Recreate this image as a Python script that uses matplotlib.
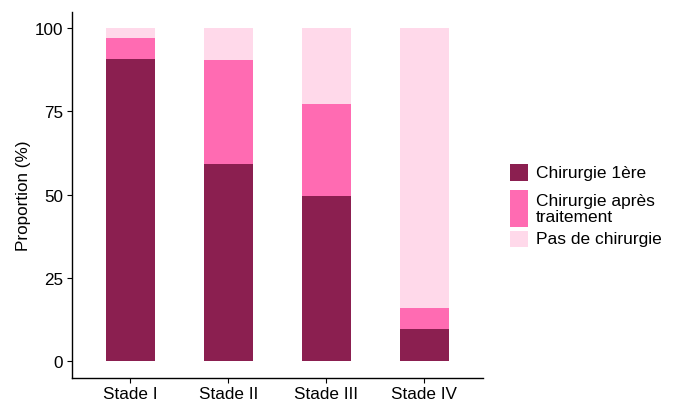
import matplotlib
matplotlib.use("Agg")
import matplotlib.pyplot as plt
from matplotlib.patches import Rectangle

plt.rcParams['font.family'] = ['Liberation Sans', 'DejaVu Sans']

# data (percent per stage)
stades = ["Stade I", "Stade II", "Stade III", "Stade IV"]
chir_1ere = [90.9, 59.3, 49.5, 9.5]
chir_apres = [6.1, 31.3, 27.7, 6.4]
pas_chir = [3.0, 9.4, 22.8, 84.1]

series_labels = ["Chirurgie 1ère", "Chirurgie après\ntraitement", "Pas de chirurgie"]
colors = ["#8B1F50", "#FF6BB2", "#FFD9EA"]

fig = plt.figure(figsize=(6.78, 4.02), dpi=100)
ax = fig.add_axes([0.1055, 0.0582, 0.6069, 0.9102])

x = list(range(1, len(stades) + 1))
bottom = [0.0] * len(stades)
for vals, col in zip([chir_1ere, chir_apres, pas_chir], colors):
    ax.bar(x, vals, width=0.5, bottom=bottom, color=col, linewidth=0)
    bottom = [b + v for b, v in zip(bottom, vals)]

ax.set_xlim(0.4, 4.6)
ax.set_ylim(-5, 105)
ax.set_xticks(x)
ax.set_xticklabels(stades)
ax.set_yticks([0, 25, 50, 75, 100])
ax.set_ylabel("Proportion (%)", fontsize=12.3, color="black", labelpad=2.5)
ax.tick_params(axis="both", labelsize=12.3, colors="black", length=3.6, width=0.8, pad=2.5)
for side in ["top", "right"]:
    ax.spines[side].set_visible(False)
for side in ["left", "bottom"]:
    ax.spines[side].set_linewidth(1.0)
    ax.spines[side].set_color("black")

# legend drawn by hand (ggplot style, taller key for the two-line label)
W, H = 678.0, 402.0
keys = [(165, 182.3), (191, 227.7), (231.7, 248.3)]
for (y0, y1), col, lab in zip(keys, colors, series_labels):
    fig.patches.append(Rectangle((510 / W, 1 - y1 / H), 17.7 / W, (y1 - y0) / H,
                                 transform=fig.transFigure, color=col, linewidth=0))
    fig.text(536 / W, 1 - (y0 + y1) / 2 / H, lab, fontsize=12.5, va="center",
             ha="left", linespacing=1.08)

fig.savefig("out.png", dpi=100)
